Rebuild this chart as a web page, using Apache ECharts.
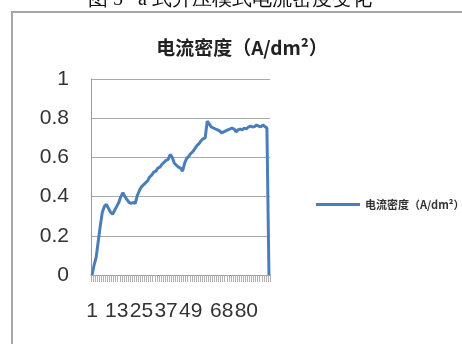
<!DOCTYPE html>
<html>
<head>
<meta charset="utf-8">
<script src="https://cdn.jsdelivr.net/npm/echarts@6/dist/echarts.min.js"></script>
<style>
html,body{margin:0;padding:0;background:#fff;}
#c{width:462px;height:344px;}
</style>
</head>
<body>
<div id="c"></div>
<script>
var captionText = '图 5   a 式升压模式电流密度变化';
var chartTitle = '电流密度（A/dm²）';
var seriesName = '电流密度（A/dm²）';
var categories = ['1','2','3','4','5','6','7','8','9','10','11','12','13','14','15','16','17','18','19','20','21','22','23','24','25','26','27','28','29','30','31','32','33','34','35','36','37','38','39','40','41','42','43','44','45','46','47','48','49','50','51','52','53','54','55','56','57','58','59','60','61','62','63','64','65','66','67','68','69','70','71','72','73','74','75','76','77','78','79','80','81','82','83','84','85','86','87'];
// tick labels as printed in the picture, and the category slots where they appear
var shownLabels = ['1','13','25','37','49','68','80'];
var labelSlots = [0, 12, 24, 36, 48, 63, 75];
var currentDensity = [0,0.05,0.09,0.17,0.25,0.32,0.35,0.36,0.34,0.32,0.31,0.33,0.35,0.37,0.40,0.42,0.40,0.385,0.37,0.365,0.37,0.366,0.405,0.43,0.45,0.46,0.47,0.48,0.50,0.51,0.525,0.53,0.545,0.55,0.565,0.575,0.585,0.59,0.615,0.60,0.57,0.56,0.55,0.545,0.53,0.57,0.595,0.605,0.62,0.63,0.645,0.66,0.67,0.685,0.695,0.70,0.785,0.77,0.755,0.75,0.745,0.74,0.735,0.725,0.73,0.735,0.74,0.745,0.75,0.745,0.73,0.74,0.745,0.74,0.75,0.745,0.755,0.76,0.755,0.757,0.765,0.76,0.755,0.765,0.758,0.75,0];
var yTicks = [0, 0.2, 0.4, 0.6, 0.8, 1];

var chart = echarts.init(document.getElementById('c'), null, {renderer:'canvas'});
chart.setOption({
  animation: false,
  backgroundColor: '#ffffff',
  graphic: [
    {type:'rect', shape:{x:12, y:12, width:480, height:360}, style:{fill:'none', stroke:'#a6a6a6', lineWidth:2}, z:1},
    {type:'text', x:88, y:0, style:{text:captionText, fontSize:20, fontFamily:'serif', fill:'#111', textVerticalAlign:'middle'}, z:10}
  ],
  title: {
    text: chartTitle,
    left: 237, top: 33, textAlign: 'center',
    textStyle: {fontSize:19, fontWeight:'bold', color:'#222', fontFamily:'"Noto Sans CJK SC", sans-serif'}
  },
  legend: {
    data: [seriesName],
    left: 311, top: 194,
    icon: 'rect', itemWidth: 44, itemHeight: 3, itemGap: 4,
    textStyle: {fontSize:11, fontWeight:'bold', color:'#333', fontFamily:'"Noto Sans CJK SC", sans-serif'}
  },
  grid: {left:91, right:192, top:79, bottom:69, containLabel:false},
  xAxis: {
    type: 'category',
    data: categories,
    boundaryGap: true,
    axisLine: {lineStyle:{color:'#9a9a9a', width:1}},
    axisTick: {show:true, interval:0, length:7, lineStyle:{color:'#b0b0b0', width:1}},
    axisLabel: {
      interval: function(idx){ return labelSlots.indexOf(idx) >= 0; },
      formatter: function(val, idx){ var k = labelSlots.indexOf(idx); return k >= 0 ? shownLabels[k] : ''; },
      margin: 26, fontSize: 21, color:'#333', fontFamily:'"Liberation Sans", sans-serif',
      hideOverlap: false
    },
    splitLine: {show:false}
  },
  yAxis: {
    type: 'value',
    min: yTicks[0], max: yTicks[yTicks.length-1], interval: 0.2,
    axisLine: {show:true, lineStyle:{color:'#9a9a9a', width:1}},
    axisTick: {show:false},
    axisLabel: {margin: 22, fontSize: 21, color:'#333', fontFamily:'"Liberation Sans", sans-serif'},
    splitLine: {show:true, lineStyle:{color:'#a8a8a8', width:1}}
  },
  series: [{
    name: seriesName,
    type: 'line',
    data: currentDensity,
    showSymbol: false,
    symbol: 'none',
    lineStyle: {color:'#4a7ebb', width:3},
    itemStyle: {color:'#4a7ebb'}
  }]
});
</script>
</body>
</html>
